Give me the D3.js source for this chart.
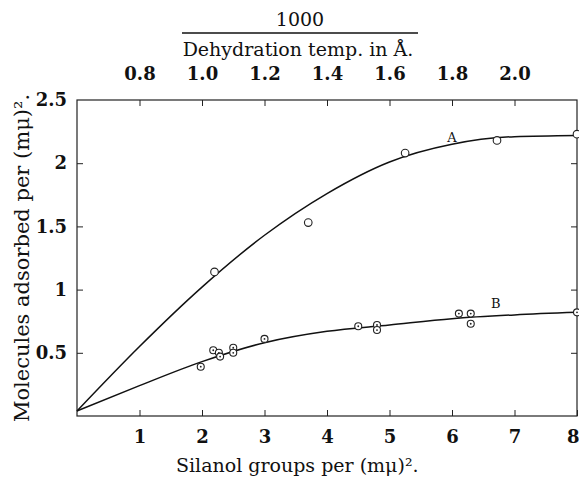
<!DOCTYPE html>
<html>
<head>
<meta charset="utf-8">
<script src="https://cdn.jsdelivr.net/npm/d3@7"></script>
<style>
  body { margin: 0; background: #fff; }
  text { font-family: "DejaVu Serif", serif; fill: #111; }
</style>
</head>
<body>
<div id="chart"></div>
<script>
// Data
const pointsAx = [2.2, 3.7, 5.25, 6.72, 8.0]
const pointsAy = [1.14, 1.53, 2.08, 2.18, 2.23]
const pointsBx = [1.98, 2.18, 2.27, 2.29, 2.5, 2.5, 3.0, 4.5, 4.8, 4.8, 6.11, 6.3, 6.3, 8.0]
const pointsBy = [0.39, 0.52, 0.50, 0.47, 0.54, 0.50, 0.61, 0.71, 0.72, 0.68, 0.81, 0.81, 0.73, 0.82]

const curveX = [0, 1, 2, 3, 4, 5, 6, 7, 8]
const curveAy = [0.04, 0.55, 1.02, 1.43, 1.76, 2.01, 2.15, 2.21, 2.22]
const curveBy = [0.04, 0.24, 0.43, 0.58, 0.67, 0.72, 0.77, 0.80, 0.82]

const bottomTicks = [1, 2, 3, 4, 5, 6, 7, 8]
const leftTicks = [0.5, 1, 1.5, 2, 2.5]
const topTicks = [0.8, 1.0, 1.2, 1.4, 1.6, 1.8, 2.0]

// Dimensions
let dimensions = {
  width: 579,
  height: 479,
  margin: { top: 100, right: 2, bottom: 63, left: 77 },
}
const w = dimensions.width - dimensions.margin.left - dimensions.margin.right
const h = dimensions.height - dimensions.margin.top - dimensions.margin.bottom

const svg = d3.select('#chart')
  .append('svg')
  .attr('width', dimensions.width)
  .attr('height', dimensions.height)

const g = svg.append('g')
  .attr('transform', `translate(${dimensions.margin.left}, ${dimensions.margin.top})`)

// Scales
const x = d3.scaleLinear().domain([0, 8]).range([0, w])
const y = d3.scaleLinear().domain([0, 2.5]).range([h, 0])
// top scale: 1000 / dehydration temp, linear against silanol groups
const xTop = d3.scaleLinear().domain([0.6, 2.2]).range([0, w])

// Frame
g.append('rect')
  .attr('width', w).attr('height', h)
  .attr('fill', 'none').attr('stroke', '#222').attr('stroke-width', 1.2)

// Axes
const bottomAxis = g.append('g')
  .attr('transform', `translate(0, ${h})`)
  .call(d3.axisBottom(x).tickValues(bottomTicks).tickSize(-6).tickPadding(14).tickFormat(d3.format('d')))
const leftAxis = g.append('g')
  .call(d3.axisLeft(y).tickValues(leftTicks).tickSize(-6).tickPadding(10).tickFormat(d => d))
const topAxis = g.append('g')
  .call(d3.axisTop(xTop).tickValues(topTicks).tickSize(-6).tickPadding(20).tickFormat(d3.format('.1f')))
const rightAxis = g.append('g')
  .attr('transform', `translate(${w}, 0)`)
  .call(d3.axisRight(y).tickValues([0.5, 1, 1.5, 2]).tickSize(-6).tickFormat(''))

for (const ax of [bottomAxis, leftAxis, topAxis, rightAxis]) {
  ax.select('.domain').remove()
  ax.selectAll('line').attr('stroke', '#222')
  ax.selectAll('text')
    .attr('font-family', '"DejaVu Serif", serif')
    .attr('font-size', 18)
    .attr('font-weight', 'bold')
    .attr('fill', '#111')
}
leftAxis.select('.tick:last-of-type line').remove()
// keep the last bottom label inside the picture
bottomAxis.select('.tick:last-of-type text').attr('text-anchor', 'end').attr('x', 2)

// Curves
const line = d3.line()
  .x(d => x(d[0]))
  .y(d => y(d[1]))
  .curve(d3.curveMonotoneX)

g.append('path')
  .datum(curveX.map((d, i) => [d, curveAy[i]]))
  .attr('d', line)
  .attr('fill', 'none').attr('stroke', '#111').attr('stroke-width', 1.5)

g.append('path')
  .datum(curveX.map((d, i) => [d, curveBy[i]]))
  .attr('d', line)
  .attr('fill', 'none').attr('stroke', '#111').attr('stroke-width', 1.5)

// Points
g.append('g')
  .selectAll('circle')
  .data(pointsAx.map((d, i) => [d, pointsAy[i]]))
  .join('circle')
  .attr('cx', d => x(d[0]))
  .attr('cy', d => y(d[1]))
  .attr('r', 3.8)
  .attr('fill', '#fff')
  .attr('stroke', '#222')
  .attr('stroke-width', 1.1)

const pB = g.append('g')
  .selectAll('g')
  .data(pointsBx.map((d, i) => [d, pointsBy[i]]))
  .join('g')
  .attr('transform', d => `translate(${x(d[0])}, ${y(d[1])})`)
pB.append('circle').attr('r', 3.5).attr('fill', '#fff').attr('stroke', '#222').attr('stroke-width', 1.1)
pB.append('circle').attr('r', 0.9).attr('fill', '#222')

// Curve labels
g.append('text').attr('x', x(6.0)).attr('y', y(2.2)).attr('text-anchor', 'middle')
  .attr('dy', '0.35em').attr('font-size', 13).attr('font-family', '"DejaVu Sans", sans-serif').text('A')
g.append('text').attr('x', x(6.7)).attr('y', y(0.89)).attr('text-anchor', 'middle')
  .attr('dy', '0.35em').attr('font-size', 13).attr('font-family', '"DejaVu Sans", sans-serif').text('B')

// Titles
svg.append('text')
  .attr('x', 176).attr('y', 472)
  .attr('font-size', 19)
  .text('Silanol groups per (mμ)².')

svg.append('text')
  .attr('transform', `translate(29, 258) rotate(-90)`)
  .attr('text-anchor', 'middle').attr('font-size', 21)
  .text('Molecules adsorbed per (mμ)².')

svg.append('text')
  .attr('x', 300).attr('y', 26)
  .attr('text-anchor', 'middle').attr('font-size', 19)
  .text('1000')
svg.append('line')
  .attr('x1', 182).attr('x2', 418).attr('y1', 33).attr('y2', 33)
  .attr('stroke', '#111').attr('stroke-width', 1.3)
svg.append('text')
  .attr('x', 298).attr('y', 56)
  .attr('text-anchor', 'middle').attr('font-size', 19)
  .text('Dehydration temp. in Å.')
</script>
</body>
</html>
